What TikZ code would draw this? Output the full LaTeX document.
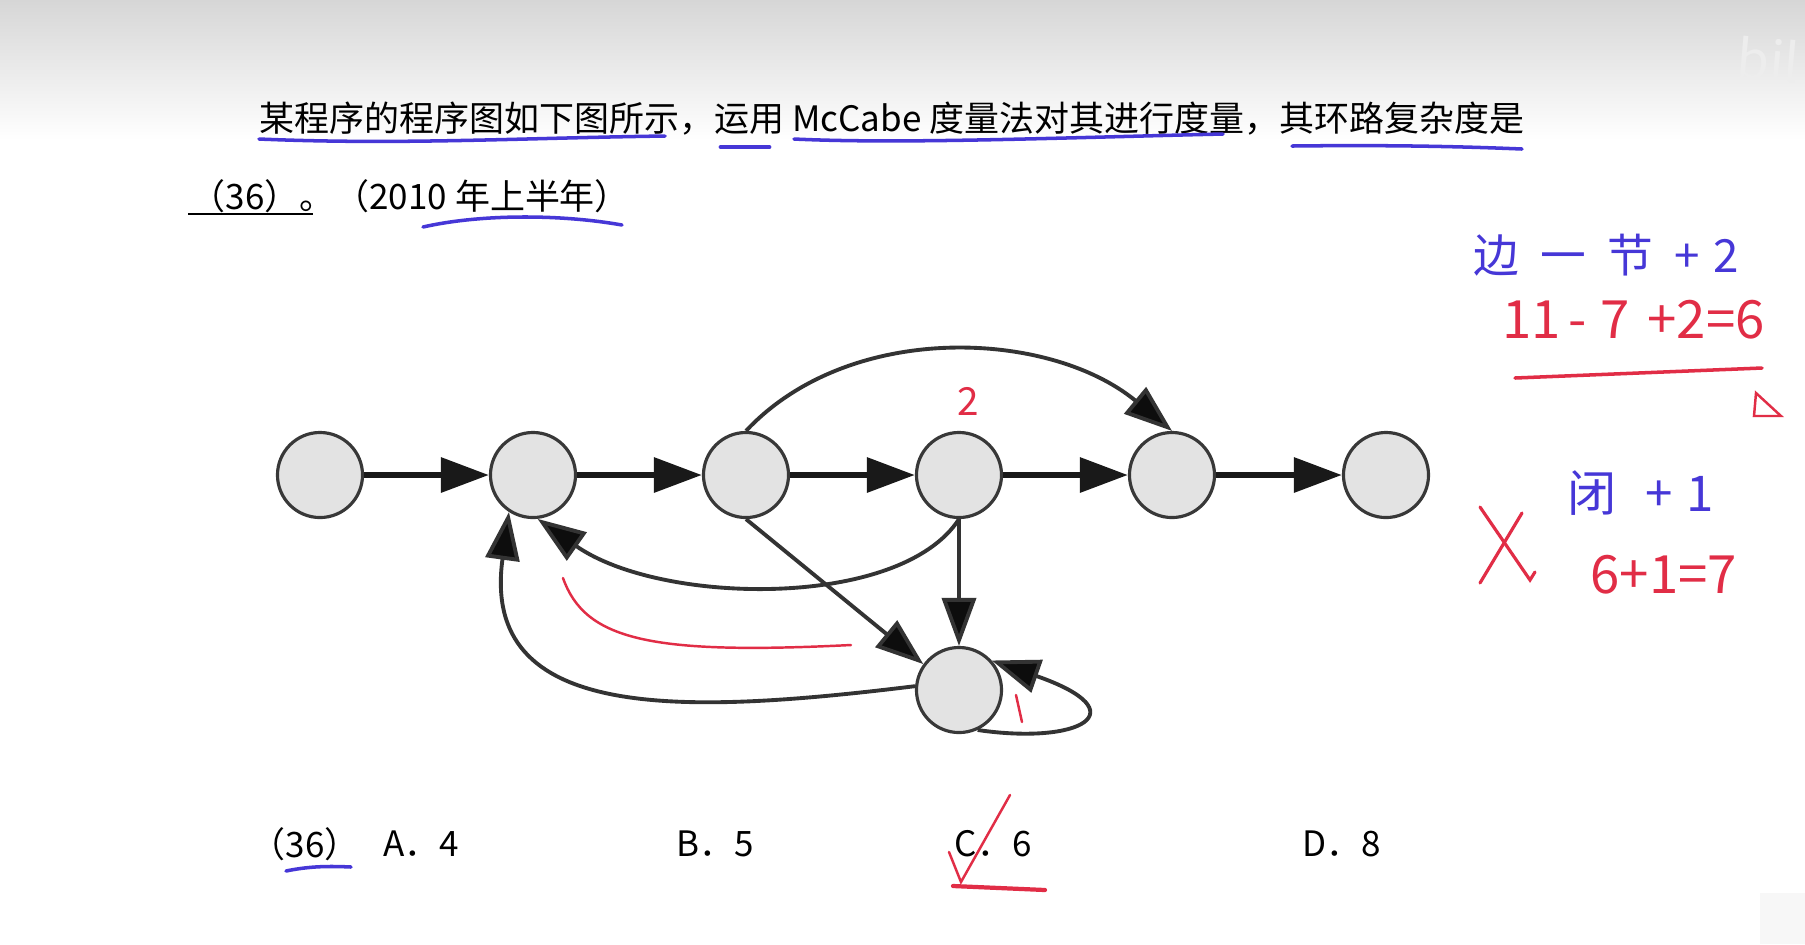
\documentclass[tikz,border=0pt]{standalone}
\usepackage{fontspec}
\setmainfont{Noto Sans CJK SC}
\usetikzlibrary{arrows.meta}
\definecolor{penblue}{RGB}{70,55,215}
\definecolor{penred}{RGB}{225,45,70}
\definecolor{nodefill}{RGB}{227,227,227}
\begin{document}
\begin{tikzpicture}[x=0.01cm,y=-0.01cm,
  vtx/.style={circle,draw=black!78,line width=0.9pt,fill=nodefill,minimum size=0.85cm,inner sep=0pt},
  mainarr/.style={line width=1.8pt,draw=black!90,-{Triangle[length=0.48cm,width=0.34cm]}},
  curvarr/.style={line width=1.1pt,draw=black!80,-{Triangle[length=0.48cm,width=0.34cm,fill=black!95]}},
  qtext/.style={font=\fontsize{9.95pt}{12pt}\selectfont,anchor=west,inner sep=0pt,text=black},
  bluepen/.style={draw=penblue,line width=1.0pt,line cap=round},
  redpen/.style={draw=penred,line width=0.7pt,line cap=round},
  bluehand/.style={text=penblue,inner sep=0pt,anchor=west},
  redhand/.style={text=penred,inner sep=0pt,anchor=west}
]
\useasboundingbox (0,0) rectangle (1805,944);
\fill[white] (0,0) rectangle (1805,944);
\shade[top color=black!16,bottom color=white] (0,0) rectangle (1805,140);
\fill[black!3] (1760,893) rectangle (1805,944);
\node[text=black!7,font=\fontsize{15pt}{16pt}\selectfont,anchor=east,inner sep=0pt,rotate=-5] (wm) at (1800,62) {bil};

% question text
\node[qtext] (q1) at (259,119) {某程序的程序图如下图所示，运用 McCabe 度量法对其进行度量，其环路复杂度是};
\node[qtext] (q2) at (190,196) {（36）。（2010 年上半年）};
\draw[line width=0.5pt] (188,214) -- (313,214);

% options
\node[qtext] (o0) at (250,844) {（36）};
\node[qtext] (oa) at (383,844) {A．4};
\node[qtext] (ob) at (676,844) {B．5};
\node[qtext] (oc) at (954,844) {C．6};
\node[qtext] (od) at (1302,844) {D．8};

% graph
\node[vtx] (n1) at (320,475) {};
\node[vtx] (n2) at (533,475) {};
\node[vtx] (n3) at (746,475) {};
\node[vtx] (n4) at (959,475) {};
\node[vtx] (n5) at (1172,475) {};
\node[vtx] (n6) at (1386,475) {};
\node[vtx] (n7) at (959,690) {};

\draw[mainarr] (n1) -- (n2);
\draw[mainarr] (n2) -- (n3);
\draw[mainarr] (n3) -- (n4);
\draw[mainarr] (n4) -- (n5);
\draw[mainarr] (n5) -- (n6);
\draw[curvarr] (n3.north) .. controls (850,320) and (1050,330) .. (n5.north);
\draw[curvarr] (n4.south) .. controls (900,610) and (660,605) .. (n2.-84);
\draw[curvarr] (n7.175) .. controls (680,715) and (480,722) .. (n2.-123);
\draw[curvarr] (n3.south) -- (n7.144);
\draw[curvarr] (n4.south) -- (n7.north);
\draw[curvarr] (n7.-65) .. controls (1080,745) and (1140,712) .. (n7.42);

% blue underlines
\draw[bluepen] (259,139) .. controls (400,145) and (520,138) .. (665,136);
\draw[bluepen,line width=1.4pt] (721,147) -- (769,147);
\draw[bluepen] (794,139) .. controls (900,144) and (1050,138) .. (1223,134);
\draw[bluepen] (1292,146) .. controls (1380,145) and (1450,146) .. (1522,149);
\draw[bluepen] (423,227) .. controls (480,214) and (560,214) .. (622,225);
\draw[bluepen] (286,871) .. controls (310,866) and (330,866) .. (351,867);

% red marks on graph
\node[redhand,font=\fontsize{11pt}{12pt}\selectfont,anchor=center] (two) at (968,401) {2};
\draw[redpen] (563,578) .. controls (585,640) and (650,655) .. (851,645);
\draw[redpen] (1016,695) -- (1022,722);

% check mark on answer C
\draw[redpen] (949,852) -- (961,882) -- (1010,795);
\draw[redpen,line width=1.2pt] (953,886) -- (1045,890);

% right side notes
\node[bluehand,font=\fontsize{13pt}{14pt}\selectfont] (note1) at (1473,255) {边\hspace{6pt}一\hspace{6pt}节\hspace{6pt}+\hspace{4pt}2};
\node[redhand,font=\fontsize{15pt}{16pt}\selectfont] (note2) at (1502,320) {11\hspace{2pt}-\hspace{4pt}7\hspace{5pt}+2=6};
\draw[redpen,line width=1.0pt] (1515,378) -- (1762,368);
\draw[redpen] (1756,393) -- (1754,416) -- (1781,416) -- cycle;
\draw[redpen,line width=0.9pt] (1480,507) -- (1530,580) -- (1535,572);
\draw[redpen,line width=0.9pt] (1522,513) -- (1480,583);
\node[bluehand,font=\fontsize{14pt}{15pt}\selectfont] (note3) at (1567,493) {闭\hspace{8pt}+\hspace{4pt}1};
\node[redhand,font=\fontsize{15pt}{16pt}\selectfont] (note4) at (1590,575) {6+1=7};
\end{tikzpicture}
\end{document}
